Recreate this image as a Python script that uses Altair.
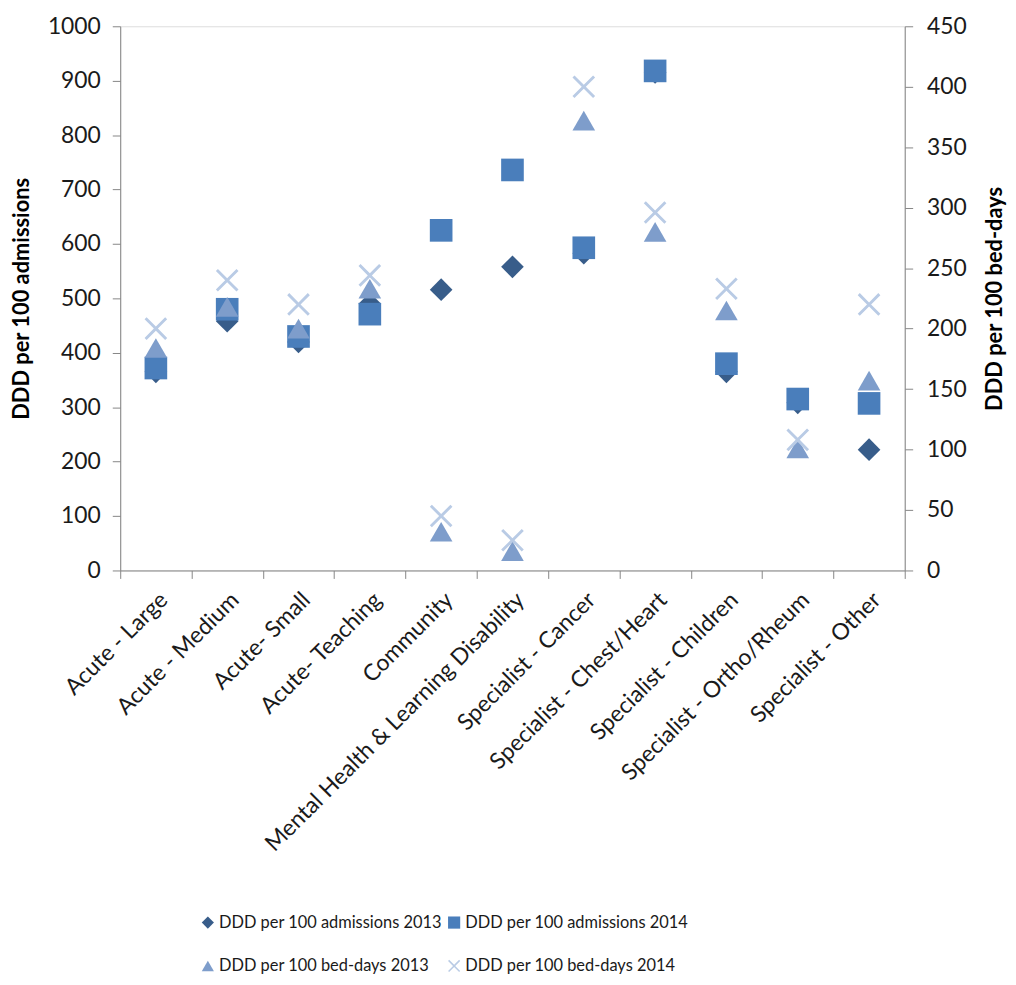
import altair as alt
import pandas as pd

categories = ["Acute - Large", "Acute - Medium", "Acute- Small", "Acute- Teaching",
              "Community", "Mental Health & Learning Disability", "Specialist - Cancer",
              "Specialist - Chest/Heart", "Specialist - Children", "Specialist - Ortho/Rheum",
              "Specialist - Other"]

adm_2013 = [365, 458, 420, 490, 516, 558, 583, 915, 365, 308, 222]
adm_2014 = [372, 480, 430, 471, 625, 736, 593, 918, 380, 315, 307]
bed_2013 = [184, 218, 200, 233, 32, 16, 372, 280, 215, 101, 157]
bed_2014 = [200, 240, 220, 244, 45, 25, 400, 296, 233, 108, 220]

series_names = ["DDD per 100 admissions 2013", "DDD per 100 admissions 2014",
                "DDD per 100 bed-days 2013", "DDD per 100 bed-days 2014"]
series_colors = ["#385D8A", "#4A7EBB", "#7E9DCB", "#B9CBE5"]
x_path = ("M-0.82,-1L0,-0.18L0.82,-1L1,-0.82L0.18,0L1,0.82L0.82,1L0,0.18"
          "L-0.82,1L-1,0.82L-0.18,0L-1,-0.82Z")
series_shapes = ["diamond", "square", "triangle-up", x_path]

rows = []
for name, vals, grp in zip(series_names, [adm_2013, adm_2014, bed_2013, bed_2014],
                           ["adm", "adm", "bed", "bed"]):
    for c, v in zip(categories, vals):
        rows.append({"category": c, "series": name, "value": v, "group": grp})
df = pd.DataFrame(rows)

FONT = "Lato"
TXT = "#1a1a1a"

x_enc = alt.X("category:N", sort=categories, title=None,
              scale=alt.Scale(paddingInner=0, paddingOuter=0),
              axis=alt.Axis(labelAngle=-45, labelFontSize=23, labelFont=FONT,
                            labelColor=TXT, tickBand="extent", tickSize=8,
                            domainColor="#868686", tickColor="#868686",
                            labelPadding=10, labelLimit=0, grid=False))
color_enc = alt.Color("series:N",
                      scale=alt.Scale(domain=series_names, range=series_colors),
                      legend=alt.Legend(title=None, orient="none", legendX=80,
                                        legendY=894, columns=2, direction="horizontal",
                                        padding=0,
                                        labelFontSize=16.5, labelFont=FONT,
                                        labelColor=TXT, symbolSize=150,
                                        symbolOpacity=1, rowPadding=25,
                                        columnPadding=3, labelLimit=0,
                                        labelOffset=3))
shape_enc = alt.Shape("series:N",
                      scale=alt.Scale(domain=series_names, range=series_shapes))

base = alt.Chart(df).mark_point(filled=True, opacity=1, size=520, strokeWidth=0)

left = base.transform_filter(alt.datum.group == "adm").encode(
    x=x_enc,
    y=alt.Y("value:Q", title="DDD per 100 admissions",
            scale=alt.Scale(domain=[0, 1000]),
            axis=alt.Axis(values=list(range(0, 1001, 100)), format="d", grid=False,
                          labelFontSize=23, labelFont=FONT, labelColor=TXT,
                          titleFontSize=22, titleFont=FONT, titleFontWeight="bold",
                          titleColor="#000000", domainColor="#868686",
                          tickColor="#868686", tickSize=8, labelPadding=12,
                          titlePadding=14)),
    color=color_enc, shape=shape_enc,
    order=alt.Order("series:N"))

right = base.transform_filter(alt.datum.group == "bed").encode(
    x=x_enc,
    y=alt.Y("value:Q", title="DDD per 100 bed-days",
            scale=alt.Scale(domain=[0, 450]),
            axis=alt.Axis(orient="right", values=list(range(0, 451, 50)), format="d",
                          grid=False, labelFontSize=23, labelFont=FONT, labelColor=TXT,
                          titleFontSize=22, titleFont=FONT, titleFontWeight="bold",
                          titleColor="#000000", titleAngle=270, titleBaseline="top",
                          domainColor="#868686", tickColor="#868686", tickSize=8,
                          labelPadding=14, titlePadding=18)),
    color=color_enc, shape=shape_enc,
    order=alt.Order("series:N"))

chart = alt.layer(left, right).resolve_scale(y="independent").properties(
    width=790, height=548, padding={"left": 2, "top": 4, "right": 2, "bottom": 2}
).configure_view(stroke=None).configure(font=FONT)

chart.save("out.html", embed_options={"renderer": "svg", "actions": False})
